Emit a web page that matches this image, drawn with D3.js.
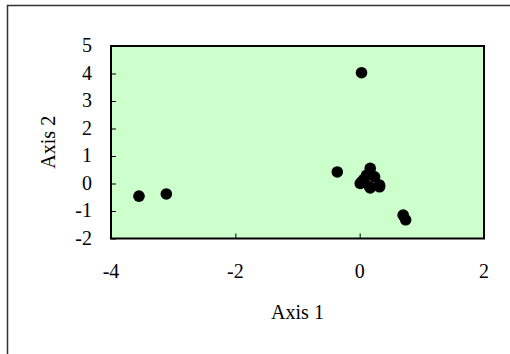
<!DOCTYPE html>
<html>
<head>
<meta charset="utf-8">
<script src="https://cdn.jsdelivr.net/npm/d3@7"></script>
<style>
  body { margin: 0; background: #fff; }
</style>
</head>
<body>
<div id="chart"></div>
<script>
/* scores */
const axis1 = [-3.55, -3.11, -0.36, 0.03, 0.70, 0.74, 0.03, 0.17, 0.11, 0.24, 0.16, 0.32, 0.01, 0.32, 0.17, 0.07];
const axis2 = [-0.46, -0.38, 0.42, 4.03, -1.15, -1.32, 0.06, 0.55, 0.30, 0.24, -0.12, -0.06, 0.00, -0.12, -0.16, 0.15];
const xTicks = [-4, -2, 0, 2];
const yTicks = [-2, -1, 0, 1, 2, 3, 4, 5];

const W = 510, H = 354;
const margin = {top: 46, right: 26, bottom: 115.5, left: 111};
const width = W - margin.left - margin.right;
const height = H - margin.top - margin.bottom;
const font = "'Liberation Serif', Tinos, 'DejaVu Serif', serif";

const svg = d3.select("#chart").append("svg")
  .attr("width", W)
  .attr("height", H)
  .attr("font-family", font);

/* outer frame, runs off the right and bottom edges */
svg.append("rect")
  .attr("x", 7.5).attr("y", 5.5)
  .attr("width", 600).attr("height", 400)
  .attr("fill", "none")
  .attr("stroke", "#333")
  .attr("stroke-width", 1.5);

const g = svg.append("g")
  .attr("transform", `translate(${margin.left},${margin.top})`);

const xScale = d3.scaleLinear().domain([-4, 2]).range([0, width]);
const yScale = d3.scaleLinear().domain([-2, 5]).range([height, 0]);

/* plot area */
g.append("rect")
  .attr("width", width).attr("height", height)
  .attr("fill", "#ccffcc");

/* inner ticks */
const xAxis = d3.axisBottom(xScale).tickValues(xTicks).tickSize(-5).tickFormat("");
const yAxis = d3.axisLeft(yScale).tickValues(yTicks).tickSize(-5).tickFormat("");

g.append("g").attr("transform", `translate(0,${height})`).call(xAxis)
  .call(a => a.select(".domain").remove())
  .selectAll("line").attr("stroke", "#000");
g.append("g").call(yAxis)
  .call(a => a.select(".domain").remove())
  .selectAll("line").attr("stroke", "#000");

/* tick labels */
g.selectAll(".xlab").data(xTicks).join("text")
  .attr("class", "xlab")
  .attr("x", d => xScale(d))
  .attr("y", height + 39)
  .attr("text-anchor", "middle")
  .attr("font-size", 20)
  .attr("font-family", font)
  .text(d => d);

g.selectAll(".ylab").data(yTicks).join("text")
  .attr("class", "ylab")
  .attr("x", -19)
  .attr("y", d => yScale(d) + 6)
  .attr("text-anchor", "end")
  .attr("font-size", 20)
  .attr("font-family", font)
  .text(d => d);

/* points */
g.selectAll(".dot").data(axis1).join("circle")
  .attr("class", "dot")
  .attr("cx", d => xScale(d))
  .attr("cy", (d, i) => yScale(axis2[i]))
  .attr("r", 5.8)
  .attr("fill", "#000");

/* plot border */
g.append("rect")
  .attr("width", width).attr("height", height)
  .attr("fill", "none")
  .attr("stroke", "#000")
  .attr("stroke-width", 2);

/* axis titles */
svg.append("text")
  .attr("x", margin.left + width / 2)
  .attr("y", 319)
  .attr("text-anchor", "middle")
  .attr("font-size", 20)
  .attr("font-family", font)
  .text("Axis 1");

svg.append("text")
  .attr("transform", `translate(55,${margin.top + height / 2}) rotate(-90)`)
  .attr("text-anchor", "middle")
  .attr("font-size", 20)
  .attr("font-family", font)
  .text("Axis 2");
</script>
</body>
</html>
